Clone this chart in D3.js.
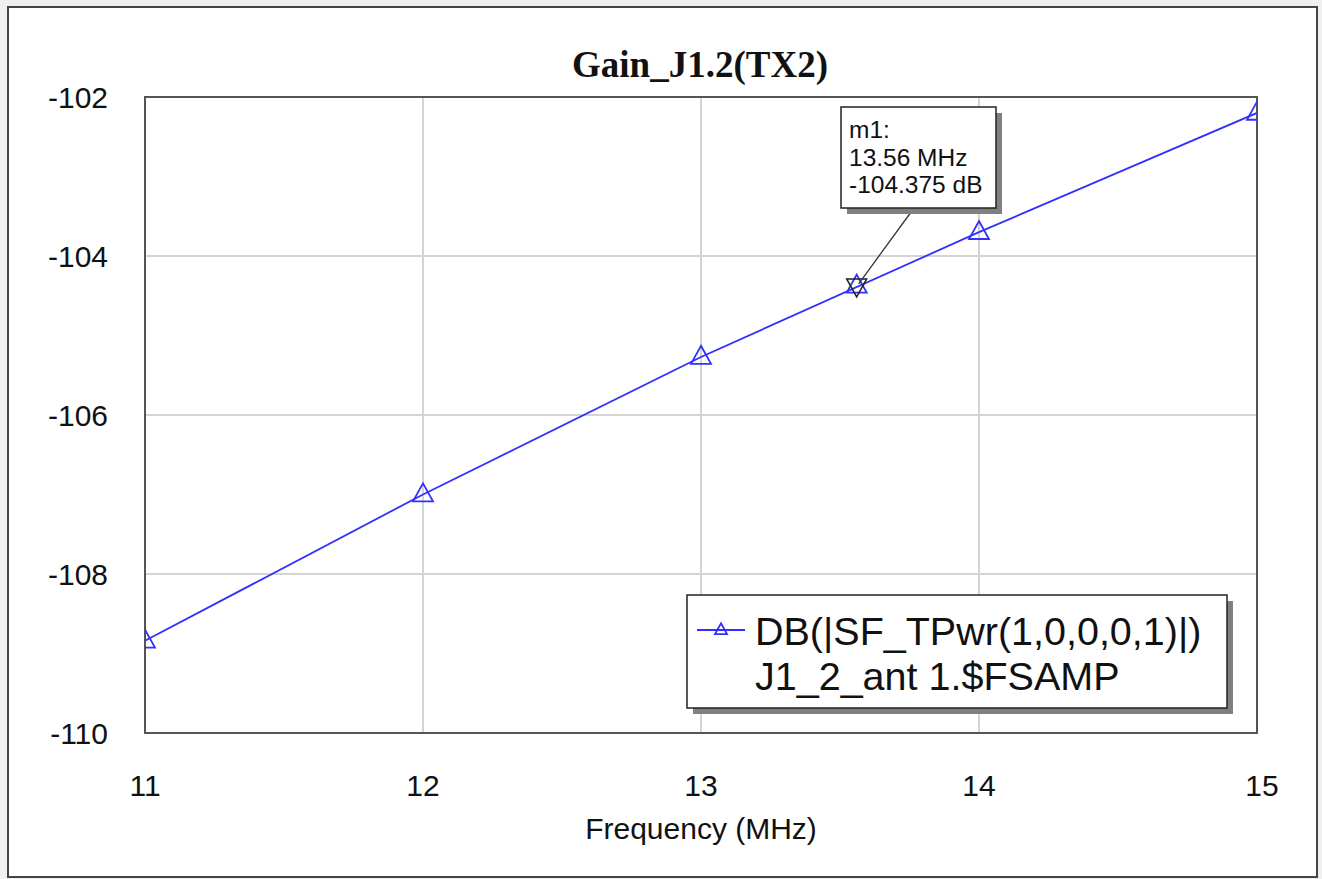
<!DOCTYPE html>
<html>
<head>
<meta charset="utf-8">
<script src="https://cdn.jsdelivr.net/npm/d3@7"></script>
<style>
  body { margin: 0; background: #f0f0f0; }
  svg { display: block; }
  text { font-family: "Liberation Sans", Arial, sans-serif; fill: #111; }
</style>
</head>
<body>
<script>
// data
var freqs = [11, 12, 13, 14, 15];
var gains = [-108.84, -107.0, -105.27, -103.7, -102.2];
var xTicks = [11, 12, 13, 14, 15];
var yTicks = [-110, -108, -106, -104, -102];
var markerFreq = 13.56, markerGain = -104.375;
var markerLines = ["m1:", "13.56 MHz", "-104.375 dB"];
var legendLines = ["DB(|SF_TPwr(1,0,0,0,1)|)", "J1_2_ant 1.$FSAMP"];
var title = "Gain_J1.2(TX2)";
var xLabel = "Frequency (MHz)";

var W = 1322, H = 879;
var plot = {left: 145, top: 97, right: 1257, bottom: 733};
var blue = "#3030ff";

var svg = d3.select("body").append("svg")
    .attr("width", W).attr("height", H);

// outer frame
svg.append("rect")
    .attr("x", 8).attr("y", 7).attr("width", 1309).attr("height", 870)
    .attr("fill", "#fff").attr("stroke", "#444").attr("stroke-width", 2);

var x = d3.scaleLinear().domain([11, 15]).range([plot.left, plot.right]);
var y = d3.scaleLinear().domain([-110, -102]).range([plot.bottom, plot.top]);

// grid
svg.append("g").selectAll("line").data(xTicks.slice(1, -1)).join("line")
    .attr("x1", d => x(d)).attr("x2", d => x(d))
    .attr("y1", plot.top).attr("y2", plot.bottom)
    .attr("stroke", "#d4d4d4").attr("stroke-width", 2);
svg.append("g").selectAll("line").data(yTicks.slice(1, -1)).join("line")
    .attr("x1", plot.left).attr("x2", plot.right)
    .attr("y1", d => y(d)).attr("y2", d => y(d))
    .attr("stroke", "#d4d4d4").attr("stroke-width", 2);

// tick labels
svg.append("g").selectAll("text").data(yTicks).join("text")
    .attr("x", 108).attr("y", d => y(d)).attr("dy", "0.36em")
    .attr("text-anchor", "end").attr("font-size", 30)
    .text(d => d);
svg.append("g").selectAll("text").data(xTicks).join("text")
    .attr("x", d => x(d) + (d === 15 ? 5 : 0)).attr("y", 785).attr("dy", "0.36em")
    .attr("text-anchor", "middle").attr("font-size", 30)
    .text(d => d);

svg.append("text").attr("x", 701).attr("y", 828).attr("dy", "0.36em")
    .attr("text-anchor", "middle").attr("font-size", 30).text(xLabel);

svg.append("text").attr("x", 700).attr("y", 77)
    .attr("text-anchor", "middle").attr("font-size", 37).attr("font-weight", "bold")
    .style("font-family", "'Liberation Serif', 'Times New Roman', serif")
    .text(title);

// plot frame
svg.append("rect")
    .attr("x", plot.left).attr("y", plot.top)
    .attr("width", plot.right - plot.left).attr("height", plot.bottom - plot.top)
    .attr("fill", "none").attr("stroke", "#555").attr("stroke-width", 2);

var pts = freqs.map((f, i) => [f, gains[i]]);
svg.append("clipPath").attr("id", "clip").append("rect")
    .attr("x", plot.left).attr("y", plot.top)
    .attr("width", plot.right - plot.left).attr("height", plot.bottom - plot.top);

var g = svg.append("g").attr("clip-path", "url(#clip)");
g.append("path")
    .attr("d", d3.line().x(d => x(d[0])).y(d => y(d[1]))(pts))
    .attr("fill", "none").attr("stroke", blue).attr("stroke-width", 1.8);

function tri(cx, cy, s, up) {
  var h = s * 0.9, k = up ? 1 : -1;
  return "M" + cx + "," + (cy - k * h * 0.62) +
         "L" + (cx + s / 2) + "," + (cy + k * h * 0.38) +
         "L" + (cx - s / 2) + "," + (cy + k * h * 0.38) + "Z";
}

g.selectAll(".sym").data(pts).join("path")
    .attr("d", d => tri(x(d[0]), y(d[1]), 20, true))
    .attr("fill", "none").attr("stroke", blue).attr("stroke-width", 1.8);

// marker m1
var mx = x(markerFreq), my = y(markerGain);
svg.append("path").attr("d", tri(mx, my, 20, true))
    .attr("fill", "none").attr("stroke", blue).attr("stroke-width", 1.8);
svg.append("path").attr("d", tri(mx, my, 20, false))
    .attr("fill", "none").attr("stroke", "#222").attr("stroke-width", 1.5);

var box = {x: 841, y: 107, w: 155, h: 101};
svg.append("line")
    .attr("x1", 914).attr("y1", box.y + box.h)
    .attr("x2", mx + 2).attr("y2", my - 2)
    .attr("stroke", "#333").attr("stroke-width", 1.3);
svg.append("rect").attr("x", box.x + 6).attr("y", box.y + 6)
    .attr("width", box.w).attr("height", box.h).attr("fill", "#808080");
svg.append("rect").attr("x", box.x).attr("y", box.y)
    .attr("width", box.w).attr("height", box.h)
    .attr("fill", "#fff").attr("stroke", "#222").attr("stroke-width", 1.5);
svg.append("g").selectAll("text").data(markerLines).join("text")
    .attr("x", box.x + 8).attr("y", (d, i) => 138 + i * 27.5)
    .attr("font-size", 24.5).text(d => d);

// legend
var lg = {x: 687, y: 595, w: 540, h: 113};
svg.append("rect").attr("x", lg.x + 6).attr("y", lg.y + 6)
    .attr("width", lg.w).attr("height", lg.h).attr("fill", "#808080");
svg.append("rect").attr("x", lg.x).attr("y", lg.y)
    .attr("width", lg.w).attr("height", lg.h)
    .attr("fill", "#fff").attr("stroke", "#222").attr("stroke-width", 1.5);
svg.append("line").attr("x1", 697).attr("x2", 745).attr("y1", 630).attr("y2", 630)
    .attr("stroke", blue).attr("stroke-width", 1.8);
svg.append("path").attr("d", tri(721, 630, 12, true))
    .attr("fill", "none").attr("stroke", blue).attr("stroke-width", 1.8);
svg.append("g").selectAll("text").data(legendLines).join("text")
    .attr("x", 755).attr("y", (d, i) => 645 + i * 45)
    .attr("font-size", 39.5).text(d => d);
</script>
</body>
</html>
